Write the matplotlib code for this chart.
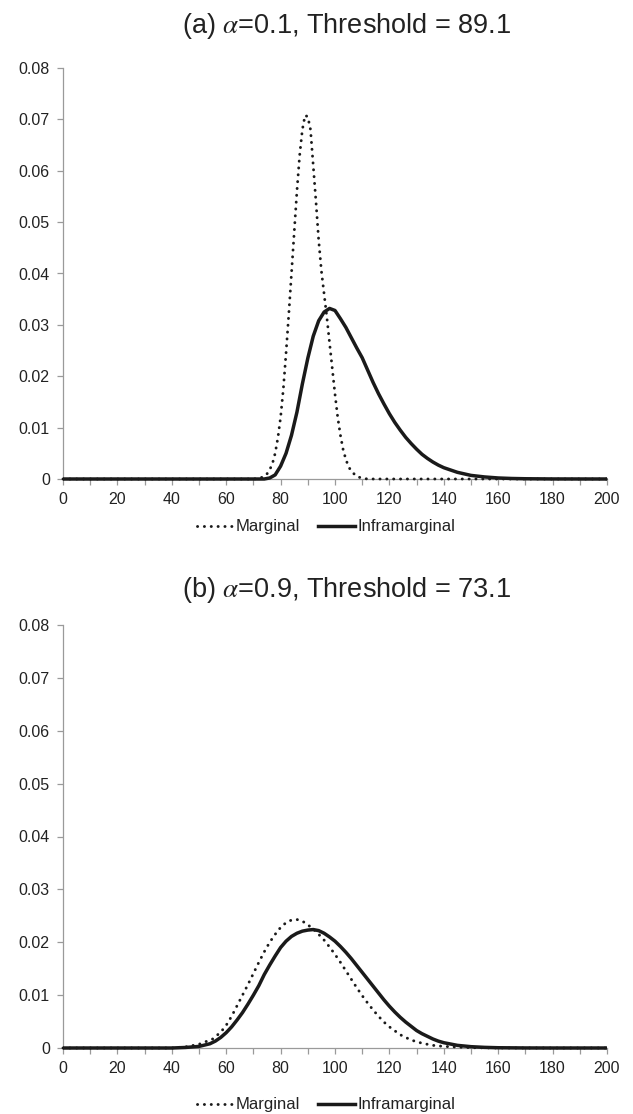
import matplotlib
matplotlib.use("Agg")
import matplotlib.pyplot as plt
from matplotlib.lines import Line2D
from matplotlib.ticker import FuncFormatter

plt.rcParams['font.family'] = ['Liberation Sans', 'DejaVu Sans']
plt.rcParams['mathtext.fontset'] = 'stix'

# ---------------- data ----------------
titles = [r"(a) $\alpha$=0.1, Threshold = 89.1", r"(b) $\alpha$=0.9, Threshold = 73.1"]
series_names = ["Marginal", "Inframarginal"]

# Panel (a) - Marginal
xa_marg = [0, 70, 72, 73, 74, 75, 76, 77, 78, 79, 80, 81, 82, 83, 84, 85, 86, 87, 88, 89,
           90, 91, 92, 93, 94, 95, 96, 97, 98, 99, 100, 101, 102, 103, 104, 105, 106, 108, 110, 112, 200]
ya_marg = [0, 0, 0.0001, 0.0003, 0.0005, 0.0010, 0.0018, 0.0030, 0.0050, 0.0080,
           0.0120, 0.0175, 0.0245, 0.0320, 0.0400, 0.0480, 0.0560, 0.0630, 0.0680, 0.0708,
           0.0705, 0.0680, 0.0610, 0.0540, 0.0465, 0.0405, 0.0360, 0.0315, 0.0265, 0.0215,
           0.0165, 0.0120, 0.0085, 0.0057, 0.0038, 0.0024, 0.0015, 0.0005, 0.00015, 0, 0]

# Panel (a) - Inframarginal
xa_infra = [0, 74, 76, 78, 80, 82, 84, 86, 88, 90, 92, 94, 96, 98, 100, 102, 104, 106, 108, 110,
            112, 114, 116, 118, 120, 122, 124, 126, 128, 130, 132, 134, 136, 138, 140, 145, 150,
            155, 160, 165, 170, 180, 200]
ya_infra = [0, 0, 0.0002, 0.0008, 0.0025, 0.0050, 0.0085, 0.0130, 0.0185, 0.0235,
            0.0278, 0.0308, 0.0325, 0.0332, 0.0328, 0.0312, 0.0295, 0.0275, 0.0255, 0.0236,
            0.0212, 0.0188, 0.0166, 0.0146, 0.0127, 0.0110, 0.0095, 0.0081, 0.0069, 0.0058,
            0.0048, 0.0040, 0.0033, 0.0027, 0.0022, 0.0013, 0.0007, 0.0004, 0.0002, 0.0001,
            0.00005, 0.00001, 0]

# Panel (b) - Marginal
xb_marg = [0, 40, 45, 50, 55, 58, 60, 62, 64, 66, 68, 70, 72, 74, 76, 78, 80, 82, 84, 86,
           88, 90, 92, 94, 96, 98, 100, 102, 104, 106, 108, 110, 112, 114, 116, 118, 120, 124,
           128, 132, 136, 140, 150, 160, 170, 200]
yb_marg = [0, 0, 0.0002, 0.0007, 0.0017, 0.0030, 0.0043, 0.0060, 0.0080, 0.0100,
           0.0120, 0.0141, 0.0162, 0.0182, 0.0200, 0.0215, 0.0228, 0.0237, 0.0242, 0.0243,
           0.0240, 0.0233, 0.0225, 0.0215, 0.0204, 0.0191, 0.0177, 0.0162, 0.0146, 0.0130,
           0.0114, 0.0099, 0.0085, 0.0072, 0.0060, 0.0049, 0.0040, 0.0025, 0.0015, 0.0009,
           0.0005, 0.0003, 0.00006, 0.00001, 0, 0]

# Panel (b) - Inframarginal
xb_infra = [0, 40, 45, 50, 54, 56, 58, 60, 62, 64, 66, 68, 70, 72, 74, 76, 78, 80, 82, 84,
            86, 88, 90, 92, 94, 96, 98, 100, 102, 104, 106, 108, 110, 112, 114, 116, 118, 120,
            122, 124, 126, 128, 130, 132, 134, 136, 138, 140, 145, 150, 155, 160, 170, 180, 200]
yb_infra = [0, 0, 0.0001, 0.0003, 0.0008, 0.0013, 0.0020, 0.0029, 0.0040, 0.0053,
            0.0067, 0.0083, 0.0100, 0.0118, 0.0139, 0.0157, 0.0174, 0.0190, 0.0202, 0.0211,
            0.0217, 0.0221, 0.0223, 0.0224, 0.0222, 0.0217, 0.0210, 0.0202, 0.0192, 0.0181,
            0.0169, 0.0156, 0.0143, 0.0130, 0.0117, 0.0104, 0.0091, 0.0079, 0.0068, 0.0058,
            0.0049, 0.0041, 0.0033, 0.0027, 0.0022, 0.0017, 0.0013, 0.0010, 0.0005, 0.00025,
            0.00012, 0.00005, 0.00001, 0, 0]

x_ticks = list(range(0, 201, 10))
y_ticks = [0, 0.01, 0.02, 0.03, 0.04, 0.05, 0.06, 0.07, 0.08]

panels = [
    (xa_marg, ya_marg, xa_infra, ya_infra),
    (xb_marg, yb_marg, xb_infra, yb_infra),
]

# ---------------- layout ----------------
W, H = 633, 1114
fig = plt.figure(figsize=(W / 100, H / 100), dpi=100)

AX_L, AX_R = 63, 607
axes_px = [(68, 479), (625, 1048)]          # (top, bottom) in pixels
title_y = [26, 590]
legend_y = [527, 1105]
title_x = 347
legend_x = 326

GRAY = "#9a9a9a"
TXT = "#222222"
LINE = "#1a1a1a"

dotted = (0, (0.05, 2.3))

def yfmt(v, pos):
    if abs(v) < 1e-12:
        return "0"
    return f"{v:.2f}"

for i, (xm, ym, xi, yi) in enumerate(panels):
    top, bot = axes_px[i]
    ax = fig.add_axes([AX_L / W, 1 - bot / H, (AX_R - AX_L) / W, (bot - top) / H])
    ax.plot(xm, ym, color=LINE, lw=2.1, linestyle=dotted, dash_capstyle='round',
            clip_on=False, zorder=3)
    ax.plot(xi, yi, color=LINE, lw=2.5, solid_capstyle='butt', solid_joinstyle='round',
            clip_on=False, zorder=4)

    ax.set_xlim(0, 200)
    ax.set_ylim(0, 0.08)
    ax.set_xticks(x_ticks)
    ax.xaxis.set_major_formatter(FuncFormatter(lambda v, p: f"{int(v)}" if int(v) % 20 == 0 else ""))
    ax.set_yticks(y_ticks)
    ax.yaxis.set_major_formatter(FuncFormatter(yfmt))

    for s in ("top", "right"):
        ax.spines[s].set_visible(False)
    for s in ("left", "bottom"):
        ax.spines[s].set_color(GRAY)
        ax.spines[s].set_linewidth(0.9)
    ax.tick_params(axis='both', direction='out', length=4.5, width=0.9, color=GRAY,
                   labelsize=11.5, labelcolor=TXT)
    ax.tick_params(axis='x', pad=5)
    ax.tick_params(axis='y', pad=5)

    fig.text(title_x / W, 1 - title_y[i] / H, titles[i], ha='center', va='center',
             fontsize=19.5, color=TXT)

    handles = [
        Line2D([], [], color=LINE, lw=2.1, linestyle=dotted, dash_capstyle='round'),
        Line2D([], [], color=LINE, lw=2.5),
    ]
    fig.legend(handles, series_names, loc='center', ncol=2,
               bbox_to_anchor=(legend_x / W, 1 - legend_y[i] / H),
               frameon=False, fontsize=12, handlelength=2.2, handletextpad=0.15,
               columnspacing=1.1, labelcolor=TXT, borderpad=0, borderaxespad=0)

fig.savefig("out.png", dpi=100)
